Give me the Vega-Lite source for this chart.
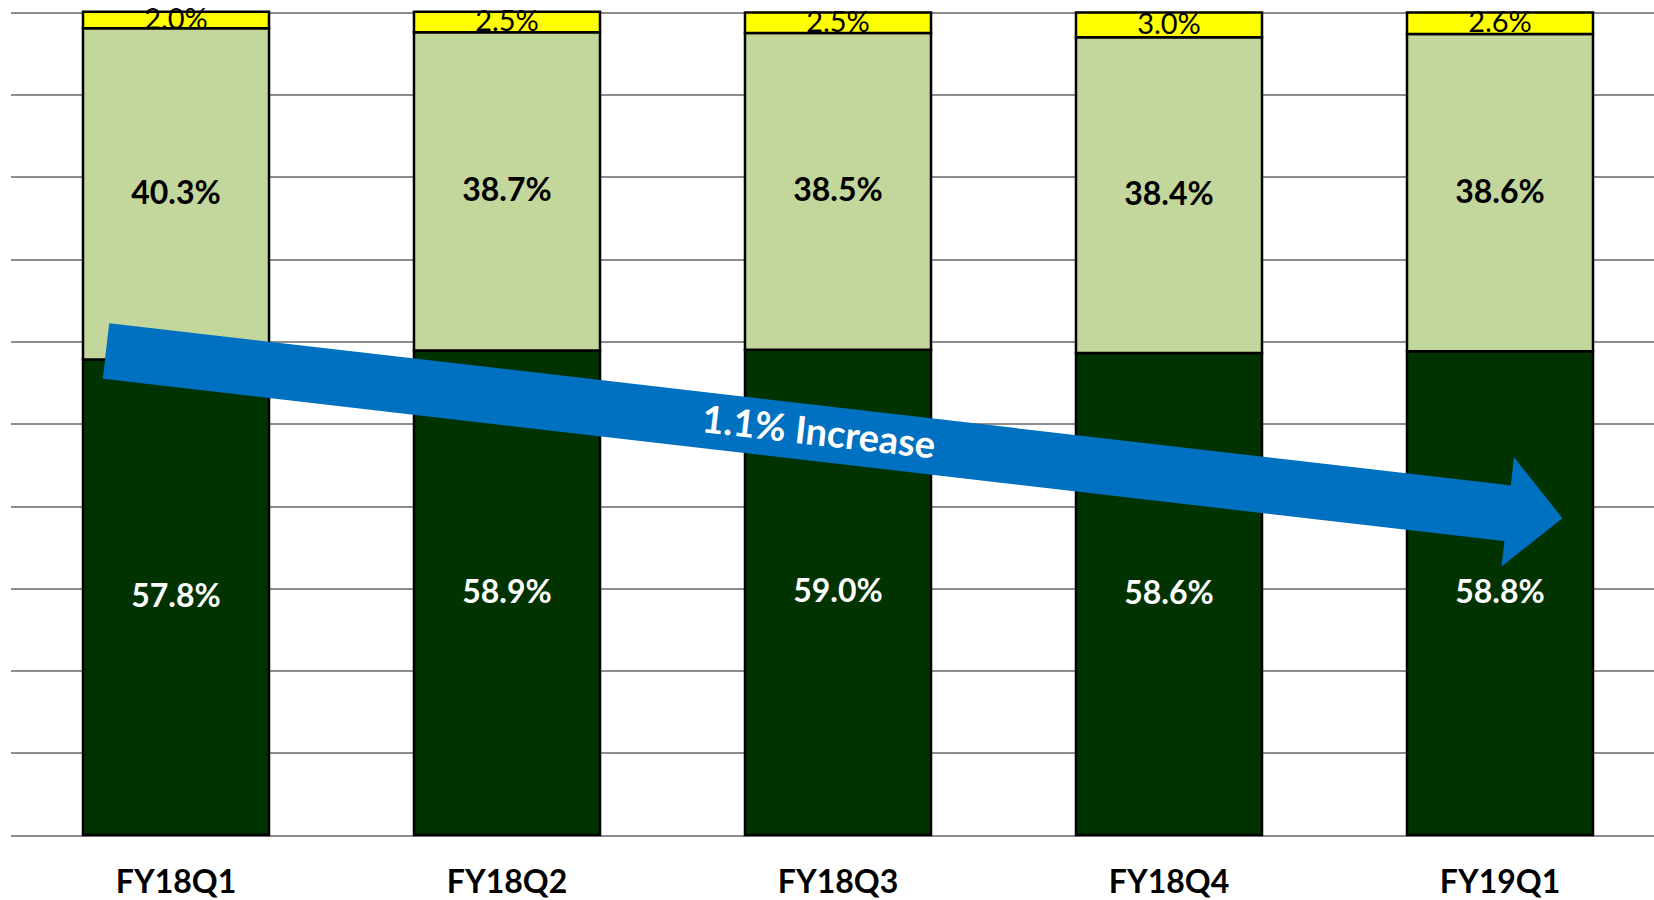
{
  "$schema": "https://vega.github.io/schema/vega-lite/v6.json",
  "width": 1655,
  "height": 822.5,
  "autosize": {"type": "none"},
  "padding": {"left": 10.5, "top": 12.5, "right": 0, "bottom": 65},
  "background": "white",
  "config": {"view": {"stroke": null}, "font": "Lato"},
  "datasets": {
    "bars": [
      {"quarter": "FY18Q1", "seg": "Dark", "order": 1, "value": 57.8, "label": "57.8%"},
      {"quarter": "FY18Q1", "seg": "Light", "order": 2, "value": 40.3, "label": "40.3%"},
      {"quarter": "FY18Q1", "seg": "Yellow", "order": 3, "value": 2.0, "label": "2.0%"},
      {"quarter": "FY18Q2", "seg": "Dark", "order": 1, "value": 58.9, "label": "58.9%"},
      {"quarter": "FY18Q2", "seg": "Light", "order": 2, "value": 38.7, "label": "38.7%"},
      {"quarter": "FY18Q2", "seg": "Yellow", "order": 3, "value": 2.5, "label": "2.5%"},
      {"quarter": "FY18Q3", "seg": "Dark", "order": 1, "value": 59.0, "label": "59.0%"},
      {"quarter": "FY18Q3", "seg": "Light", "order": 2, "value": 38.5, "label": "38.5%"},
      {"quarter": "FY18Q3", "seg": "Yellow", "order": 3, "value": 2.5, "label": "2.5%"},
      {"quarter": "FY18Q4", "seg": "Dark", "order": 1, "value": 58.6, "label": "58.6%"},
      {"quarter": "FY18Q4", "seg": "Light", "order": 2, "value": 38.4, "label": "38.4%"},
      {"quarter": "FY18Q4", "seg": "Yellow", "order": 3, "value": 3.0, "label": "3.0%"},
      {"quarter": "FY19Q1", "seg": "Dark", "order": 1, "value": 58.8, "label": "58.8%"},
      {"quarter": "FY19Q1", "seg": "Light", "order": 2, "value": 38.6, "label": "38.6%"},
      {"quarter": "FY19Q1", "seg": "Yellow", "order": 3, "value": 2.6, "label": "2.6%"}
    ],
    "shaft": [
      {"pos": 0.2885, "pct": 58.85, "order": 1},
      {"pos": 4.527, "pct": 39.1, "order": 2}
    ],
    "head": [
      {"pos": 4.606, "pct": 38.9}
    ],
    "note": [
      {"pos": 2.441, "pct": 48.7, "text": "1.1% Increase"}
    ]
  },
  "resolve": {"scale": {"x": "independent"}},
  "layer": [
    {
      "data": {"name": "bars"},
      "transform": [
        {"stack": "value", "groupby": ["quarter"], "sort": [{"field": "order"}], "as": ["v0", "v1"]}
      ],
      "mark": {"type": "bar", "stroke": "black", "strokeWidth": 2.5},
      "encoding": {
        "x": {
          "field": "quarter", "type": "nominal", "sort": null,
          "scale": {"paddingInner": 0.438, "paddingOuter": 0.219},
          "axis": {
            "title": null, "ticks": false, "domain": false, "grid": false,
            "labelFont": "Lato", "labelFontWeight": "bold", "labelFontSize": 32,
            "labelColor": "black", "labelPadding": 32, "labelAngle": 0
          }
        },
        "y": {
          "field": "v0", "type": "quantitative",
          "scale": {"domain": [0, 100], "nice": false, "zero": true},
          "axis": {
            "title": null, "labels": false, "ticks": false, "domain": false,
            "grid": true, "gridColor": "#8c8c8c", "gridWidth": 2,
            "values": [0, 10, 20, 30, 40, 50, 60, 70, 80, 90, 100]
          }
        },
        "y2": {"field": "v1"},
        "color": {
          "field": "seg", "type": "nominal", "legend": null,
          "scale": {"domain": ["Dark", "Light", "Yellow"], "range": ["#003300", "#C3D69B", "#FFFF00"]}
        }
      }
    },
    {
      "data": {"name": "bars"},
      "transform": [
        {"stack": "value", "groupby": ["quarter"], "sort": [{"field": "order"}], "as": ["v0", "v1"]},
        {"calculate": "(datum.v0 + datum.v1) / 2", "as": "mid"},
        {"filter": "datum.seg !== 'Yellow'"}
      ],
      "mark": {"type": "text", "font": "Lato", "fontWeight": "bold", "fontSize": 32, "baseline": "middle", "align": "center"},
      "encoding": {
        "x": {
          "field": "quarter", "type": "nominal", "sort": null,
          "scale": {"paddingInner": 0.438, "paddingOuter": 0.219},
          "axis": null
        },
        "y": {"field": "mid", "type": "quantitative"},
        "text": {"field": "label"},
        "color": {
          "condition": {"test": "datum.seg === 'Dark'", "value": "white"},
          "value": "black"
        }
      }
    },
    {
      "data": {"name": "bars"},
      "transform": [
        {"stack": "value", "groupby": ["quarter"], "sort": [{"field": "order"}], "as": ["v0", "v1"]},
        {"calculate": "(datum.v0 + datum.v1) / 2", "as": "mid"},
        {"filter": "datum.seg === 'Yellow'"}
      ],
      "mark": {"type": "text", "font": "Lato", "fontWeight": "normal", "fontSize": 29, "baseline": "middle", "align": "center", "color": "black"},
      "encoding": {
        "x": {
          "field": "quarter", "type": "nominal", "sort": null,
          "scale": {"paddingInner": 0.438, "paddingOuter": 0.219},
          "axis": null
        },
        "y": {"field": "mid", "type": "quantitative"},
        "text": {"field": "label"}
      }
    },
    {
      "data": {"name": "shaft"},
      "mark": {"type": "line", "color": "#0070C0", "strokeWidth": 56, "strokeCap": "butt"},
      "encoding": {
        "x": {"field": "pos", "type": "quantitative", "scale": {"domain": [0, 5], "nice": false, "zero": false}, "axis": null},
        "y": {"field": "pct", "type": "quantitative"},
        "order": {"field": "order"}
      }
    },
    {
      "data": {"name": "head"},
      "mark": {"type": "point", "shape": "M -0.5 -1 L 0.5 0 L -0.5 1 Z", "size": 12100, "angle": 6.5, "filled": true, "color": "#0070C0", "opacity": 1, "strokeWidth": 0},
      "encoding": {
        "x": {"field": "pos", "type": "quantitative", "scale": {"domain": [0, 5], "nice": false, "zero": false}, "axis": null},
        "y": {"field": "pct", "type": "quantitative"}
      }
    },
    {
      "data": {"name": "note"},
      "mark": {"type": "text", "font": "Lato", "fontWeight": "bold", "fontSize": 38, "angle": 6.5, "color": "white", "baseline": "middle", "align": "center"},
      "encoding": {
        "x": {"field": "pos", "type": "quantitative", "scale": {"domain": [0, 5], "nice": false, "zero": false}, "axis": null},
        "y": {"field": "pct", "type": "quantitative"},
        "text": {"field": "text"}
      }
    }
  ]
}
